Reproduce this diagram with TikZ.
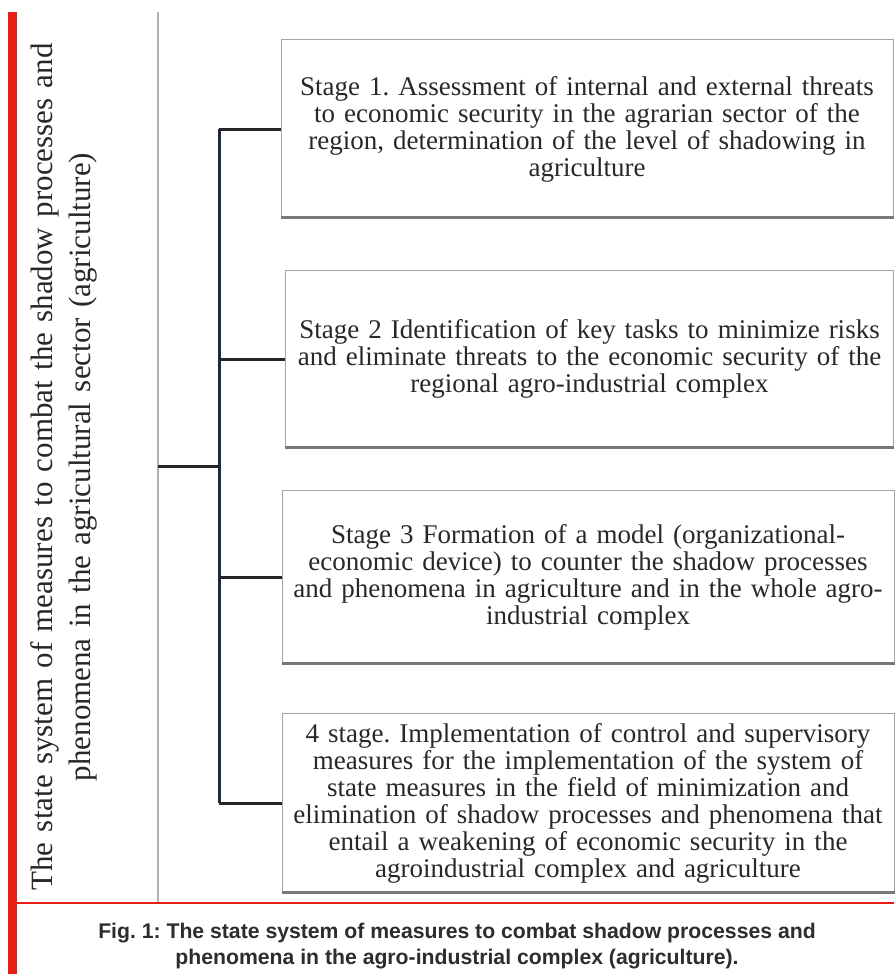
\documentclass[tikz,border=0pt]{standalone}
\usepackage{fontspec}
\setmainfont{Liberation Serif}
\newfontfamily\capfont{Liberation Sans}
\frenchspacing
\definecolor{redbar}{RGB}{232,30,20}
\definecolor{navyline}{RGB}{28,40,72}
\definecolor{boxedge}{RGB}{165,165,165}
\definecolor{shadowc}{RGB}{120,120,120}
\definecolor{txt}{RGB}{40,40,40}
\definecolor{captxt}{RGB}{45,45,45}
\tikzset{
  stagebox/.style={draw=boxedge, line width=1pt, fill=white, minimum width=612pt, inner sep=0pt,
    text width=608pt, align=center, text=txt, font=\fontsize{27}{27}\selectfont},
  conn/.style={draw=navyline, line width=3pt},
  stub/.style={draw=black!85, line width=3pt},
  shadowline/.style={draw=shadowc, line width=3pt},
}
\begin{document}
\begin{tikzpicture}[x=1pt,y=-1pt]
\useasboundingbox (0,0) rectangle (894,974);
\fill[white] (0,0) rectangle (894,974);
% red frame
\fill[redbar] (8,12) rectangle (17,974);
\draw[redbar, line width=2.5pt] (17,903) -- (894,903);
% gray divider
\draw[black!30, line width=2pt] (158,12) -- (158,902);
% title
\node[rotate=90, text width=890pt, align=center, text=txt, font=\frenchspacing\fontsize{31}{38}\selectfont]
  (title) at (64,467) {The state system of measures to combat the shadow processes and\\ phenomena in the agricultural sector (agriculture)};
% boxes
\node[stagebox, minimum height=178pt] (s1) at (587,129) {Stage 1. Assessment of internal and external threats\\ to economic security in the agrarian sector of the\\ region, determination of the level of shadowing in\\ agriculture};
\node[stagebox, minimum height=178pt, minimum width=607pt] (s2) at (589.5,359) {Stage 2 Identification of key tasks to minimize risks\\ and eliminate threats to the economic security of the\\ regional agro-industrial complex};
\node[stagebox, minimum height=174pt] (s3) at (588,577) {Stage 3 Formation of a model (organizational-\\ economic device) to counter the shadow processes\\ and phenomena in agriculture and in the whole agro-\\ industrial complex};
\node[stagebox, minimum height=180pt] (s4) at (588,803) {4 stage. Implementation of control and supervisory\\ measures for the implementation of the system of\\ state measures in the field of minimization and\\ elimination of shadow processes and phenomena that\\ entail a weakening of economic security in the\\ agroindustrial complex and agriculture};
\foreach \b in {s1,s2,s3,s4}{\draw[shadowline] ([yshift=1pt]\b.south west) -- ([yshift=1pt]\b.south east);}
% connectors
\coordinate (g) at (158,466);
\coordinate (j) at (219,466);
\draw[stub] (g) -- (j);
\draw[conn] (s1.west -| j) -- (s4.west -| j);
\foreach \b in {s1,s2,s3,s4}{\draw[stub] (\b.west -| j) -- (\b.west);}
% caption
\node[font=\capfont\bfseries\fontsize{21.2}{26}\selectfont, text=captxt, align=center] (cap) at (457,946)
  {Fig. 1: The state system of measures to combat shadow processes and\\ phenomena in the agro-industrial complex (agriculture).};
\end{tikzpicture}
\end{document}
